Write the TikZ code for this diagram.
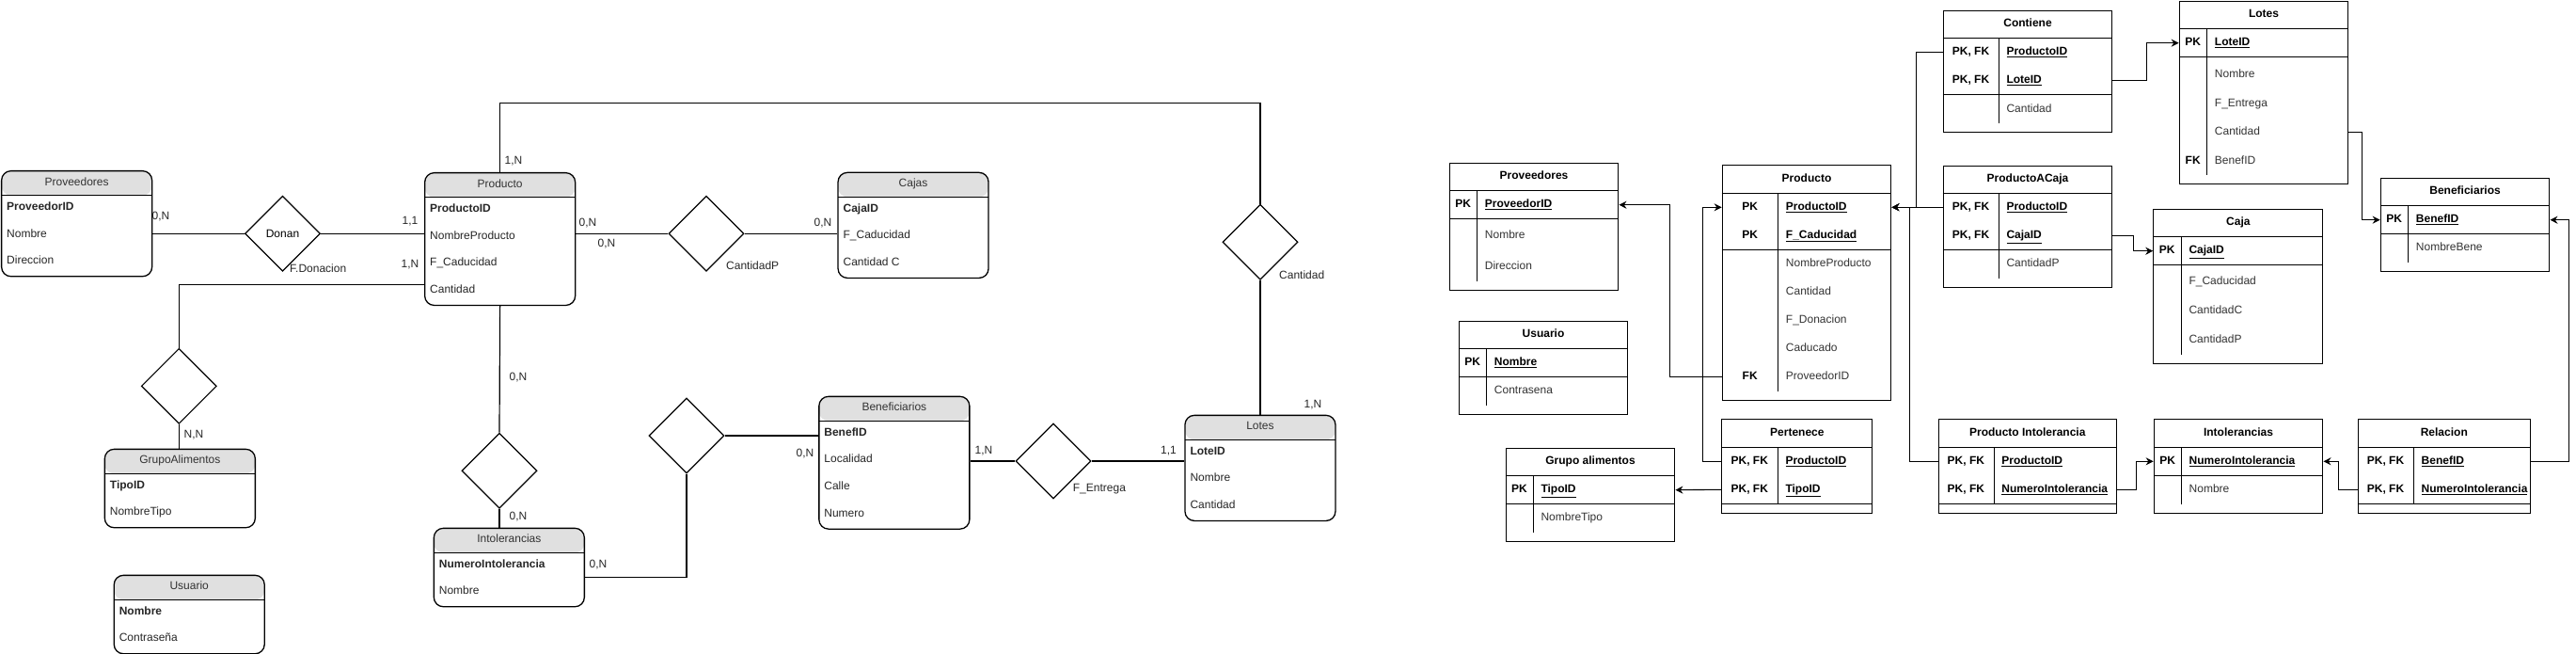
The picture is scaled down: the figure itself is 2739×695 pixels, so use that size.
\documentclass[tikz,border=0pt]{standalone}
\usepackage{fontspec}
\setmainfont{Liberation Sans}
\usetikzlibrary{arrows.meta,calc,shapes.geometric}
\definecolor{headgrey}{HTML}{E0E0E0}
\newcommand{\dfont}{\fontsize{12}{14}\selectfont}
\newcommand{\pkfk}{PK, FK}
% entidad E-R: nombre, posicion, filas, titulo, clave, atributos
\newcommand{\erent}[6]{%
  \node[entity, minimum height=26+28.7*#3] (#1) at #2 {};
  \node[etitle] (#1-t) at ($(#1.north)+(0,13)$) {#4};
  \node[ekey] (#1-0) at ($(#1.north west)+(6,39.3)$) {#5};
  \foreach \a [count=\i] in {#6}
    \node[eattr] (#1-\i) at ($(#1.north west)+(6,39.3+28.7*\i)$) {\a};
}
% tabla relacional: nombre, posicion, ancho, col. clave, alto, titulo, n. claves, claves
\newcommand{\dbtab}[8]{%
  \def\dbkey{#4}\def\dbsep{#7}%
  \node[dbtable, minimum width=#3, minimum height=#5] (#1) at #2 {};
  \node[ttitle] (#1-t) at ($(#1.north)+(0,15)$) {#6};
  \draw[rule] ($(#1.north west)+(0,30)$) -- ($(#1.north east)+(0,30)$);
  \draw[rule] ($(#1.north west)+(0,30+30*#7)$) -- ($(#1.north east)+(0,30+30*#7)$);
  \draw[rule] ($(#1.north west)+(#4,30)$) -- ($(#1.south west)+(#4,-10)$);
  \foreach \kl/\kf [count=\i] in {#8} {
    \node[tkeylbl] (#1-kl\i) at ($(#1.north west)+(#4/2,15+30*\i)$) {\kl};
    \node[tkey] (#1-k\i) at ($(#1.north west)+(#4+8,15+30*\i)$) {\underline{\kf}};
  }%
}
% filas sin clave: nombre, primer desplazamiento, separacion, filas
\newcommand{\dbrows}[4]{%
  \foreach \ol/\of [count=\i] in {#4} {
    \node[tkeylbl] (#1-ol\i) at ($(#1.north west)+(\dbkey/2,30+30*\dbsep+#2+#3*\i-#3)$) {\ol};
    \node[tfield] (#1-o\i) at ($(#1.north west)+(\dbkey+8,30+30*\dbsep+#2+#3*\i-#3)$) {\of};
  }%
}
\begin{document}
\begin{tikzpicture}[x=1pt, y=-1pt, font=\dfont,
  entity/.style={draw, line width=1.3pt, rounded corners=10pt, minimum width=160,
    anchor=north west, inner sep=0pt,
    path picture={\fill[headgrey] (path picture bounding box.north west) rectangle ([yshift=-26pt]path picture bounding box.north east);
      \draw[line width=1.3pt] ([yshift=-26pt]path picture bounding box.north west) -- ([yshift=-26pt]path picture bounding box.north east);}},
  etitle/.style={inner sep=0pt, text height=9pt, text depth=2.5pt, text=black!80},
  eattr/.style={anchor=west, inner sep=0pt, text height=9pt, text depth=2.5pt, text=black!85},
  ekey/.style={eattr, font=\dfont\bfseries},
  rel/.style={draw, diamond, line width=1.2pt, minimum width=80, minimum height=80, inner sep=0pt},
  card/.style={inner sep=0pt, text height=9pt, text depth=2.5pt, text=black!85},
  link/.style={line width=1.2pt},
  dbtable/.style={draw, line width=1.1pt, anchor=north west, inner sep=0pt},
  rule/.style={line width=1.1pt},
  ttitle/.style={inner sep=0pt, font=\dfont\bfseries, text height=9pt, text depth=2.5pt},
  tkeylbl/.style={ttitle},
  tkey/.style={ttitle, anchor=west},
  tfield/.style={anchor=west, inner sep=0pt, text height=9pt, text depth=2.5pt, text=black!80},
  fk/.style={line width=1.1pt, -{Stealth[length=8pt, width=8pt]}}]
  \useasboundingbox (0,0) rectangle (2739,695);

  % ---------- modelo E-R ----------
  \erent{eProv}{(1,181)}{3}{Proveedores}{ProveedorID}{Nombre,Direccion}
  \erent{eProd}{(451,183)}{4}{Producto}{ProductoID}{NombreProducto,F\_Caducidad,Cantidad}
  \erent{eCaja}{(890.4,182.7)}{3}{Cajas}{CajaID}{F\_Caducidad,Cantidad C}
  \erent{eGrupo}{(110.7,476.7)}{2}{GrupoAlimentos}{TipoID}{NombreTipo}
  \erent{eUsu}{(120.6,610.7)}{2}{Usuario}{Nombre}{Contraseña}
  \erent{eIntol}{(460.7,560.7)}{2}{Intolerancias}{NumeroIntolerancia}{Nombre}
  \erent{eBenef}{(870.2,420.7)}{4}{Beneficiarios}{BenefID}{Localidad,Calle,Numero}
  \erent{eLote}{(1259.3,440.7)}{3}{Lotes}{LoteID}{Nombre,Cantidad}

  % relaciones
  \node[rel] (dDonan) at (300.5,248.3) {Donan};
  \node[rel] (dGrupo) at (190.3,410.3) {};
  \node[rel] (dIntol) at (531,500.3) {};
  \node[rel] (dBenef) at (730,463) {};
  \node[rel] (dCaja) at (751,248.3) {};
  \node[rel] (dEntrega) at (1120,490) {};
  \node[rel] (dLote) at (1340,257.3) {};

  % lineas
  \draw[link] (dDonan.west -| eProv.east) -- (dDonan.west);
  \draw[link] (dDonan.east) -- (dDonan.east -| eProd.west);
  \draw[link] ($(eProd.north west)+(0,119.5)$) -| (dGrupo.north);
  \draw[link] (dGrupo.south) -- (dGrupo.south |- eGrupo.north);
  \draw[link] (eProd.south) -- (dIntol.north);
  \draw[link] (dIntol.south) -- (dIntol.south |- eIntol.north);
  \draw[link] ($(eIntol.north east)+(0,52.6)$) -| (dBenef.south);
  \draw[link] (dBenef.east) -- (dBenef.east -| eBenef.west);
  \draw[link] (dEntrega.west -| eBenef.east) -- (dEntrega.west);
  \draw[link] (dEntrega.east) -- (dEntrega.east -| eLote.west);
  \draw[link] (dLote.south) -- (dLote.south |- eLote.north);
  \draw[link] (dLote.north) -- ++(0,-107.3) -| (eProd.north);
  \draw[link] (dCaja.west -| eProd.east) -- (dCaja.west);
  \draw[link] (dCaja.east) -- (dCaja.east -| eCaja.west);

  % cardinalidades y atributos de relacion
  \node[card] (cProvDon) at (171,230) {0,N};
  \node[card] (cProdDon) at (436,235) {1,1};
  \node[card] (cProdGrp) at (436,281.7) {1,N};
  \node[card, anchor=west] (aDonan) at (308,286.7) {F.Donacion};
  \node[card] (cGrupo) at (206,462.7) {N,N};
  \node[card] (cProdInt) at (551,401.7) {0,N};
  \node[card] (cIntol) at (551,549.3) {0,N};
  \node[card] (cIntBen) at (636,600) {0,N};
  \node[card] (cBenInt) at (856,482.3) {0,N};
  \node[card] (cBenEnt) at (1046,479.3) {1,N};
  \node[card, anchor=west] (aEntrega) at (1140.7,519.3) {F\_Entrega};
  \node[card] (cLoteEnt) at (1242.5,479.3) {1,1};
  \node[card] (cLote) at (1396,430) {1,N};
  \node[card, anchor=west] (aLote) at (1360,293.3) {Cantidad};
  \node[card] (cProdLote) at (546,171) {1,N};
  \node[card] (cProdCaja) at (625,237.7) {0,N};
  \node[card] (cProdCaja2) at (645,259.3) {0,N};
  \node[card, anchor=west] (aCaja) at (772,283.3) {CantidadP};
  \node[card] (cCaja) at (875,237.7) {0,N};

  % ---------- modelo relacional ----------
  \dbtab{tProv}{(1540.7,172.7)}{179.6}{30}{135}{Proveedores}{1}{PK/ProveedorID}
  \dbrows{tProv}{18}{32.6}{/Nombre,/Direccion}
  \dbtab{tUsu}{(1550.7,340.7)}{179.6}{30}{99.3}{Usuario}{1}{PK/Nombre}
  \dbrows{tUsu}{15}{30}{/Contrasena}
  \dbtab{tGrupo}{(1600.7,475.7)}{179.6}{29.6}{99.6}{Grupo alimentos}{1}{PK/TipoID}
  \dbrows{tGrupo}{15}{30}{/NombreTipo}
  \dbtab{tProd}{(1830.7,175.3)}{179.6}{60}{250}{Producto}{2}{PK/ProductoID,PK/F\_Caducidad}
  \dbrows{tProd}{15.4}{30}{/NombreProducto,/Cantidad,/F\_Donacion,/Caducado,FK/ProveedorID}
  \dbtab{tPert}{(1830.3,445.3)}{160}{60}{100}{Pertenece}{2}{\pkfk/ProductoID,\pkfk/TipoID}
  \dbtab{tCont}{(2065.7,10.7)}{179.6}{59.6}{129.3}{Contiene}{2}{\pkfk/ProductoID,\pkfk/LoteID}
  \dbrows{tCont}{15.3}{30}{/Cantidad}
  \dbtab{tPaC}{(2065.7,175.7)}{179.6}{59.6}{129.3}{ProductoACaja}{2}{\pkfk/ProductoID,\pkfk/CajaID}
  \dbrows{tPaC}{15}{30}{/CantidadP}
  \dbtab{tLote}{(2316.7,0.7)}{179.6}{30}{194.3}{Lotes}{1}{PK/LoteID}
  \dbrows{tLote}{18.5}{30.6}{/Nombre,/F\_Entrega,/Cantidad,FK/BenefID}
  \dbtab{tCaja}{(2289.3,221.7)}{180}{30}{164.3}{Caja}{1}{PK/CajaID}
  \dbrows{tCaja}{17.6}{30.8}{/F\_Caducidad,/CantidadC,/CantidadP}
  \dbtab{tBenef}{(2530.7,188.7)}{179.6}{30}{99.6}{Beneficiarios}{1}{PK/BenefID}
  \dbrows{tBenef}{15}{30}{/NombreBene}
  \dbtab{tPInt}{(2060.5,445.3)}{189.5}{59.7}{100}{Producto Intolerancia}{2}{\pkfk/ProductoID,\pkfk/NumeroIntolerancia}
  \dbtab{tIntol}{(2289.7,445.3)}{179.6}{29.8}{100}{Intolerancias}{1}{PK/NumeroIntolerancia}
  \dbrows{tIntol}{15.4}{30}{/Nombre}
  \dbtab{tRel}{(2506.5,445.3)}{183.5}{60}{100}{Relacion}{2}{\pkfk/BenefID,\pkfk/NumeroIntolerancia}

  % claves ajenas
  \draw[fk] (tProd.west |- tProd-o5) -- ++(-55,0) |- (tProv.east |- tProv-k1);
  \draw[fk] (tPert.west |- tPert-k1) -- ++(-20,0) |- (tProd.west |- tProd-k1);
  \draw[fk] (tPert.west |- tPert-k2) -- (tGrupo.east |- tGrupo-k1);
  \draw[fk] (tPaC.west |- tProd-k1) -- (tProd.east |- tProd-k1);
  \draw[fk] (tCont.west |- tCont-k1) -- ++(-28,0) |- (tProd.east |- tProd-k1);
  \draw[fk] (tPInt.west |- tPInt-k1) -- ++(-30,0) |- (tProd.east |- tProd-k1);
  \draw[fk] (tCont.east |- tCont-k2) -- ++(36,0) |- (tLote.west |- tLote-k1);
  \draw[fk] (tPaC.east |- tPaC-k2) -- ++(22,0) |- (tCaja.west |- tCaja-k1);
  \draw[fk] (tLote.east |- tLote-o3) -- ++(14,0) |- (tBenef.west |- tBenef-k1);
  \draw[fk] (tPInt.east |- tPInt-k2) -- ++(20.5,0) |- (tIntol.west |- tIntol-k1);
  \draw[fk] (tRel.west |- tRel-k2) -- ++(-20,0) |- (tIntol.east |- tIntol-k1);
  \draw[fk] (tRel.east |- tRel-k1) -- ++(40,0) |- (tBenef.east |- tBenef-k1);
\end{tikzpicture}
\end{document}
